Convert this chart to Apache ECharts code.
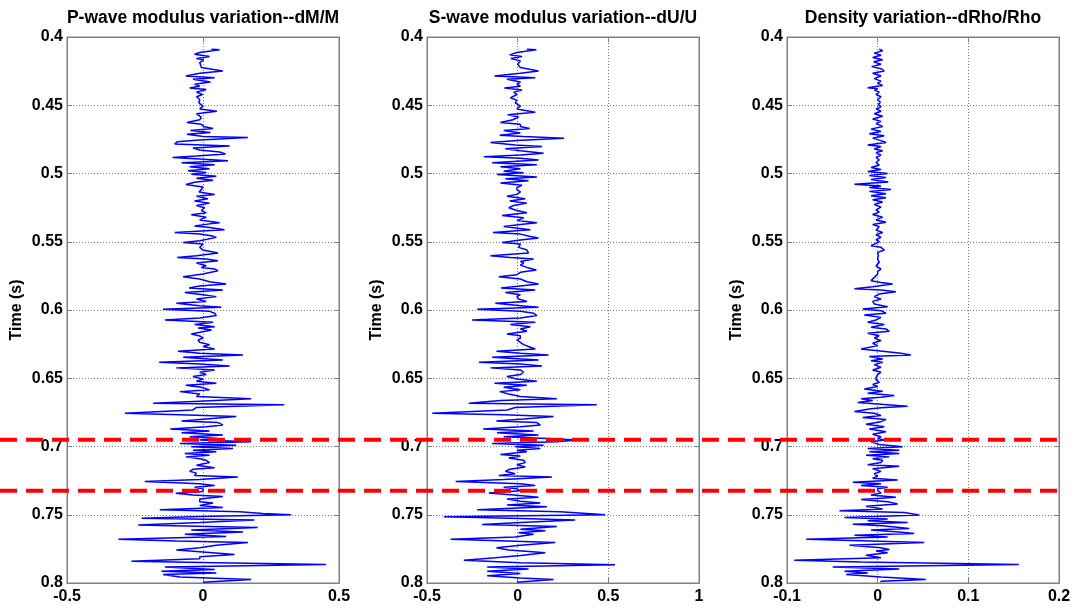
<!DOCTYPE html>
<html><head><meta charset="utf-8">
<script src="https://cdn.jsdelivr.net/npm/echarts@6/dist/echarts.min.js"></script>
<style>html,body{margin:0;padding:0;background:#fff}#c{width:1075px;height:608px}</style>
</head><body><div id="c"></div>
<script>
// ---- data ----
const panelTitles = ['P-wave modulus variation--dM/M', 'S-wave modulus variation--dU/U', 'Density variation--dRho/Rho'];
const xMins = [-0.5, -0.5, -0.1];
const xMaxs = [0.5, 1, 0.2];
const xSteps = [0.5, 0.5, 0.1];
const timeMin = 0.4, timeMax = 0.8, timeStep = 0.05;
const timeLabel = 'Time (s)';
const markerTimes = [0.695, 0.7324];

// [time (s), value]
const pTrace = [
[0.4089,0.031],[0.4094,0.061],[0.4113,-0.012],[0.4126,-0.031],[0.4143,0.024],[0.4158,-0.024],[0.4167,0.002],[0.4187,-0.012],[0.4224,-0.006],[0.4236,0],
[0.4249,0.073],[0.4266,-0.012],[0.4286,-0.063],[0.4298,0.043],[0.4310,-0.037],[0.4330,0.027],[0.4347,-0.031],[0.4360,-0.012],[0.4374,-0.049],[0.4384,0.012],
[0.4404,-0.024],[0.4421,-0.002],[0.4438,-0.024],[0.4458,-0.012],[0.4483,-0.015],[0.4507,0],[0.4527,-0.012],[0.4544,0.051],[0.4562,-0.024],[0.4576,-0.031],
[0.4589,-0.006],[0.4606,-0.012],[0.4626,-0.059],[0.4640,-0.006],[0.4655,0.002],[0.4670,0.037],[0.4685,-0.046],[0.4700,0.027],[0.4712,-0.059],[0.4729,0],
[0.4736,0.165],[0.4754,-0.012],[0.4768,-0.095],[0.4783,-0.104],[0.4798,0.098],[0.4813,-0.037],[0.4828,-0.012],[0.4842,0.061],[0.4857,0.083],[0.4872,-0.024],
[0.4882,-0.112],[0.4894,-0.012],[0.4906,0.092],[0.4921,-0.079],[0.4936,0.043],[0.4951,-0.049],[0.4966,0.024],[0.4980,-0.055],[0.4993,0.012],[0.5005,-0.043],
[0.5020,0.049],[0.5034,-0.024],[0.5049,0.037],[0.5064,-0.031],[0.5081,-0.063],[0.5099,0],[0.5118,-0.006],[0.5135,-0.015],[0.5153,0.043],[0.5167,-0.024],
[0.5185,0.018],[0.5202,-0.031],[0.5217,0.024],[0.5234,-0.024],[0.5251,0.006],[0.5271,-0.006],[0.5288,0.012],[0.5303,-0.043],[0.5320,0.012],[0.5340,-0.012],
[0.5360,0.061],[0.5369,0.024],[0.5384,-0.031],
[0.5395,0.024],[0.5412,0.079],[0.5432,-0.104],[0.5444,-0.012],[0.5456,0.031],[0.5468,0.049],[0.5480,0.043],[0.5493,-0.012],[0.5505,-0.073],[0.5517,0],
[0.5541,-0.012],[0.5561,0],[0.5583,0.055],[0.5602,-0.024],[0.5615,-0.095],[0.5627,0.012],[0.5639,0.055],[0.5656,-0.024],[0.5676,0.012],[0.5688,-0.006],
[0.5700,0.043],[0.5712,0.055],[0.5737,0],[0.5756,-0.073],[0.5773,-0.012],[0.5793,0.024],[0.5810,0.085],[0.5824,-0.012],[0.5839,-0.051],[0.5854,0.073],
[0.5871,-0.067],[0.5888,0],[0.5902,0.049],[0.5920,-0.024],[0.5937,0.012],[0.5951,-0.098],[0.5968,-0.012],[0.5980,0.067],[0.5995,-0.147],[0.6010,0.024],
[0.6024,0.043],[0.6041,0.049],[0.6059,-0.012],[0.6073,-0.140],[0.6090,0.037],[0.6107,-0.031],[0.6122,0.043],[0.6132,-0.018],[0.6146,0.031],[0.6176,-0.043],
[0.6190,-0.012],[0.6205,0],[0.6220,-0.018],[0.6237,-0.012],[0.6254,0.024],[0.6268,0],[0.6285,0.043],[0.6302,-0.092],[0.6317,-0.012],[0.6329,0.147],
[0.6346,-0.073],[0.6366,0.073],[0.6383,-0.161],[0.6395,-0.012],[0.6410,0.098],[0.6424,-0.098],[0.6439,0.043],[0.6456,-0.012],[0.6473,0.012],[0.6488,-0.037],
[0.6505,0],[0.6522,-0.024],[0.6537,0.049],[0.6551,-0.063],[0.6566,-0.006],[0.6585,0.024],[0.6598,-0.085],[0.6615,-0.012],[0.6634,-0.024],[0.6651,0.177],
[0.6668,-0.012],[0.6683,-0.183],[0.6695,0.299],
[0.6714,-0.024],[0.6732,-0.037],[0.6756,-0.287],[0.6768,-0.085],[0.6781,0.122],[0.6798,0.012],[0.6813,-0.079],[0.6825,0.055],[0.6842,0.073],[0.6855,0.012],
[0.6872,-0.120],[0.6887,0.024],[0.6899,-0.079],[0.6916,0.073],[0.6929,-0.049],[0.6941,0.055],[0.6953,-0.012],[0.6966,0.177],[0.6978,-0.085],[0.6990,0.122],
[0.7002,-0.043],[0.7015,0.110],[0.7027,-0.037],[0.7039,0.049],[0.7052,-0.067],[0.7064,0.024],[0.7076,-0.063],[0.7089,-0.012],[0.7101,0.012],[0.7118,0.024],
[0.7138,-0.024],[0.7155,0.043],[0.7167,-0.037],[0.7182,-0.049],[0.7195,-0.024],[0.7212,-0.031],[0.7224,0.128],[0.7241,-0.012],[0.7256,-0.214],[0.7273,-0.012],
[0.7286,0.043],[0.7298,-0.031],[0.7310,0],[0.7330,0],[0.7342,-0.100],[0.7355,-0.037],[0.7367,0.073],[0.7384,-0.012],[0.7404,-0.012],[0.7414,0.037],
[0.7433,-0.012],[0.7446,0.073],[0.7463,-0.159],[0.7478,0.134],[0.7490,0.220],[0.7500,0.324],[0.7512,-0.012],[0.7525,-0.226],[0.7539,0.189],[0.7557,-0.012],
[0.7576,-0.238],[0.7594,0.201],[0.7611,-0.043],[0.7626,0.147],[0.7643,-0.067],[0.7660,0.085],[0.7680,-0.311],[0.7692,-0.098],[0.7704,0.165],[0.7724,0.049],
[0.7741,-0.012],[0.7759,-0.098],[0.7773,0],[0.7791,0.116],[0.7808,-0.012],[0.7823,-0.012],[0.7840,-0.263],[0.7852,0.049],[0.7865,0.452],[0.7882,-0.140],
[0.7901,0.043],[0.7914,-0.153],[0.7926,0.049],[0.7938,-0.147],[0.7956,-0.085],[0.7975,0.177],[0.7995,0]
];

const sTrace = [
[0.4089,0.051],[0.4094,0.103],[0.4113,-0.004],[0.4131,-0.044],[0.4143,0.024],[0.4158,-0.037],[0.4175,0.015],[0.4200,0],[0.4224,0.015],[0.4249,0.115],
[0.4266,0.015],[0.4286,-0.128],[0.4298,0.097],[0.4310,-0.059],[0.4330,0.015],[0.4347,-0.004],[0.4360,0.015],[0.4374,-0.073],[0.4389,0.024],[0.4404,-0.022],
[0.4421,-0.004],[0.4446,-0.040],[0.4463,-0.004],[0.4483,-0.013],[0.4507,0.015],[0.4527,-0.004],[0.4552,0.097],[0.4569,-0.055],[0.4586,0.005],[0.4606,-0.026],
[0.4626,-0.095],[0.4640,0.015],[0.4655,0.015],[0.4670,0.066],[0.4685,-0.077],[0.4704,0.015],[0.4719,-0.099],[0.4729,0.033],[0.4741,0.256],[0.4759,-0.004],
[0.4773,-0.150],[0.4791,-0.013],[0.4803,0.134],[0.4818,-0.068],[0.4833,0.015],[0.4852,0.143],[0.4865,0.015],[0.4877,-0.187],[0.4889,0.015],[0.4901,0.115],
[0.4921,-0.141],[0.4936,0.106],[0.4951,-0.095],[0.4966,0.015],[0.4983,-0.077],[0.4995,0.033],[0.5007,-0.114],[0.5025,0.106],[0.5039,-0.068],[0.5054,0.060],
[0.5069,-0.095],[0.5086,0.024],[0.5103,-0.004],[0.5118,-0.004],[0.5135,0.015],[0.5153,-0.004],[0.5167,-0.059],[0.5185,0.042],[0.5202,-0.044],[0.5217,0.051],
[0.5234,-0.022],[0.5251,-0.049],[0.5271,-0.004],[0.5288,0.051],[0.5308,-0.086],[0.5325,0.033],[0.5345,-0.004],[0.5360,0.106],[0.5374,0.015],[0.5389,-0.077],
[0.5412,0.070],[0.5432,-0.136],[0.5444,0.015],[0.5461,0.070],[0.5473,0.115],[0.5488,0.015],[0.5505,-0.086],[0.5517,0.015],[0.5541,0.005],[0.5561,0.051],
[0.5583,0.060],[0.5602,-0.150],[0.5615,-0.040],[0.5627,0.088],[0.5644,0.015],[0.5656,0.033],[0.5671,0.015],[0.5688,0.051],[0.5707,0.103],[0.5724,0.015],
[0.5741,-0.004],[0.5756,-0.104],[0.5773,0.015],[0.5793,0.051],[0.5810,0.115],[0.5824,0.015],[0.5839,-0.092],[0.5854,0.097],[0.5871,-0.068],[0.5888,0.015],
[0.5902,-0.004],[0.5920,0.005],[0.5937,0.051],[0.5951,-0.123],[0.5968,0.015],[0.5980,0.115],[0.5995,-0.223],[0.6010,0.015],[0.6024,0.088],[0.6041,0.106],
[0.6059,0.015],[0.6073,-0.251],[0.6090,0.097],[0.6107,-0.040],[0.6122,0.070],[0.6139,0.015],[0.6156,0.051],[0.6176,-0.059],[0.6188,0.015],[0.6205,0.015],
[0.6220,-0.004],[0.6237,0.015],[0.6254,0.033],[0.6273,0.070],[0.6285,0.097],[0.6302,-0.117],[0.6317,0.015],[0.6329,0.170],[0.6346,-0.141],[0.6366,0.115],
[0.6383,-0.214],[0.6395,0.015],[0.6410,0.134],[0.6424,-0.150],[0.6439,0.015],[0.6456,0.033],[0.6473,0.015],[0.6488,-0.059],[0.6505,-0.004],[0.6522,0.106],
[0.6537,-0.128],[0.6551,0.051],[0.6566,-0.077],[0.6585,0.015],[0.6598,-0.099],[0.6615,-0.049],[0.6634,0.015],[0.6651,0.216],[0.6663,-0.095],[0.6683,-0.269],
[0.6695,0.436],
[0.6714,-0.013],[0.6732,-0.059],[0.6756,-0.471],[0.6768,-0.077],[0.6781,0.198],[0.6798,0.033],[0.6813,-0.117],[0.6825,0.106],[0.6842,0.125],[0.6855,0.015],
[0.6872,-0.190],[0.6887,0.088],[0.6899,-0.114],[0.6916,0.115],[0.6929,-0.077],[0.6941,0.161],[0.6953,0.326],[0.6966,0.216],[0.6978,-0.141],[0.6990,0.143],
[0.7002,-0.013],[0.7015,0.125],[0.7027,-0.004],[0.7039,0.051],[0.7059,-0.095],[0.7069,0.015],[0.7084,-0.049],[0.7101,0.033],[0.7118,0.042],[0.7133,-0.004],
[0.7150,0.042],[0.7167,-0.044],[0.7182,-0.068],[0.7200,-0.013],[0.7212,-0.104],[0.7224,0.189],[0.7241,-0.077],[0.7256,-0.342],[0.7273,0.015],[0.7286,0.097],
[0.7298,-0.077],[0.7310,-0.004],[0.7325,0.015],[0.7340,-0.159],[0.7355,-0.022],[0.7372,0.115],[0.7384,-0.059],[0.7401,0.015],[0.7414,0.125],[0.7429,-0.059],
[0.7441,0.161],[0.7463,-0.223],[0.7478,0.234],[0.7490,0.381],[0.7500,0.482],[0.7515,-0.407],[0.7527,0.015],[0.7539,0.317],[0.7557,0.015],[0.7571,-0.196],
[0.7586,0.216],[0.7606,0.015],[0.7618,0.152],[0.7631,0.005],[0.7643,0.088],[0.7663,-0.013],[0.7680,-0.370],[0.7692,-0.059],[0.7704,0.207],[0.7724,0.015],
[0.7741,-0.117],[0.7759,-0.049],[0.7778,0.152],[0.7798,0.015],[0.7815,-0.123],[0.7833,-0.297],[0.7852,0.015],[0.7867,0.537],[0.7882,-0.168],[0.7897,0.060],
[0.7914,-0.168],[0.7931,0.015],[0.7946,-0.168],[0.7963,0.015],[0.7975,0.198],[0.7995,-0.004]
];

const rhoTrace = [
[0.4089,0.0018],[0.4101,0.0055],[0.4118,-0.0037],[0.4133,0.0037],[0.4150,-0.0055],[0.4167,0.0055],[0.4182,-0.0044],[0.4200,0.0037],[0.4217,-0.0066],[0.4232,0.0037],
[0.4249,0.0073],[0.4266,-0.0055],[0.4286,0.0037],[0.4305,-0.0037],[0.4323,0.0037],[0.4340,0],[0.4355,0.0055],[0.4372,-0.0110],[0.4379,0],[0.4389,-0.0037],
[0.4404,0.0018],[0.4421,-0.0018],[0.4438,0.0037],[0.4458,0],[0.4478,0.0029],[0.4495,0.0007],[0.4512,0.0037],[0.4527,-0.0018],[0.4544,0.0037],[0.4562,-0.0037],
[0.4581,0.0055],[0.4601,-0.0055],[0.4618,0.0037],[0.4635,-0.0018],[0.4655,0.0055],[0.4675,-0.0073],[0.4692,0.0037],[0.4709,-0.0092],[0.4724,0.0073],[0.4741,-0.0055],
[0.4759,0.0037],[0.4773,0.0092],[0.4791,-0.0110],[0.4803,0.0037],[0.4820,-0.0037],[0.4833,0.0055],[0.4847,-0.0018],[0.4865,0.0037],[0.4882,-0.0018],[0.4901,0.0018],
[0.4921,-0.0018],[0.4938,0.0018],[0.4956,-0.0073],[0.4970,0.0037],[0.4985,-0.0110],[0.5000,0.0110],[0.5015,-0.0092],[0.5030,0.0092],[0.5044,-0.0073],[0.5062,0.0117],
[0.5079,-0.0256],[0.5091,0.0037],[0.5103,-0.0092],[0.5118,0.0147],[0.5131,-0.0092],[0.5148,0.0092],[0.5163,-0.0073],[0.5177,0.0092],[0.5192,-0.0055],[0.5209,0.0055],
[0.5227,-0.0037],[0.5246,0.0037],[0.5266,-0.0018],[0.5283,0.0018],[0.5300,-0.0055],[0.5320,0.0055],[0.5340,-0.0018],[0.5357,0.0092],[0.5374,-0.0055],[0.5389,0.0018],
[0.5395,0.0037],[0.5415,-0.0018],[0.5432,0.0055],[0.5449,-0.0018],[0.5468,0.0037],[0.5485,-0.0018],[0.5500,0.0018],[0.5517,-0.0037],[0.5529,-0.0073],[0.5541,0.0037],
[0.5561,0.0073],[0.5578,0],[0.5602,0.0007],[0.5627,0],[0.5651,0.0018],[0.5676,-0.0018],[0.5700,0.0037],[0.5717,0],[0.5737,0],[0.5761,-0.0037],
[0.5785,-0.0073],[0.5798,0.0037],[0.5810,0.0165],[0.5829,-0.0055],[0.5844,-0.0256],[0.5854,0.0037],[0.5866,0.0201],[0.5883,0.0018],[0.5902,-0.0037],[0.5920,0.0037],
[0.5937,-0.0055],[0.5956,-0.0037],[0.5976,0.0110],[0.5993,-0.0165],[0.6005,0.0037],[0.6024,0.0092],[0.6037,-0.0147],[0.6054,0.0037],[0.6073,-0.0018],[0.6090,-0.0110],
[0.6107,0.0073],[0.6127,-0.0073],[0.6139,0.0092],[0.6156,0.0128],[0.6171,-0.0110],[0.6188,0.0018],[0.6205,-0.0037],[0.6224,0.0037],[0.6244,-0.0055],[0.6261,0],
[0.6285,-0.0183],[0.6302,0.0055],[0.6317,0.0256],[0.6329,0.0366],[0.6341,-0.0092],[0.6359,0.0055],[0.6371,-0.0073],[0.6383,0.0055],[0.6400,-0.0037],[0.6420,0.0037],
[0.6439,-0.0055],[0.6456,0.0037],[0.6473,0],[0.6493,-0.0018],[0.6512,-0.0018],[0.6529,0.0018],[0.6546,-0.0055],[0.6561,0],[0.6578,-0.0147],[0.6595,0.0055],
[0.6610,-0.0110],[0.6627,0.0183],[0.6639,0.0037],[0.6651,-0.0183],[0.6663,-0.0055],[0.6678,-0.0220],[0.6693,0.0073],[0.6705,0.0330],[0.6717,0.0037],
[0.6724,-0.0073],[0.6744,-0.0256],[0.6756,-0.0037],[0.6773,0.0037],[0.6788,-0.0165],[0.6803,0.0092],[0.6818,0.0037],[0.6837,-0.0128],[0.6855,0.0073],[0.6872,-0.0092],
[0.6892,0.0092],[0.6911,-0.0055],[0.6929,0.0037],[0.6941,0],[0.6953,0.0073],[0.6966,-0.0073],[0.6985,0.0018],[0.7002,0.0275],[0.7015,-0.0110],[0.7027,0.0238],
[0.7039,-0.0092],[0.7052,0.0238],[0.7064,-0.0128],[0.7076,0.0128],[0.7089,-0.0055],[0.7101,0.0055],[0.7118,0.0037],[0.7133,-0.0110],[0.7145,0.0238],[0.7163,-0.0055],
[0.7182,0.0037],[0.7200,-0.0037],[0.7217,0],[0.7232,-0.0055],[0.7246,0.0220],[0.7261,-0.0275],[0.7273,0.0037],[0.7286,-0.0183],[0.7298,0.0110],[0.7310,0],
[0.7325,0],[0.7340,0.0037],[0.7355,-0.0073],[0.7372,0.0201],[0.7389,-0.0183],[0.7404,0.0110],[0.7421,0.0220],[0.7438,-0.0128],[0.7458,0.0055],[0.7470,-0.0421],
[0.7483,0.0293],[0.7502,0.0458],[0.7520,-0.0366],[0.7532,0.0110],[0.7544,-0.0110],[0.7557,0.0330],[0.7569,-0.0275],[0.7581,0.0055],[0.7601,0.0348],[0.7611,-0.0073],
[0.7626,0.0238],[0.7638,0.0403],[0.7650,-0.0256],[0.7663,0.0110],[0.7680,-0.0788],[0.7692,-0.0073],[0.7704,0.0513],[0.7724,-0.0311],[0.7741,0.0037],[0.7754,0.0128],
[0.7766,-0.0018],[0.7778,0.0110],[0.7796,-0.0128],[0.7815,0.0037],[0.7833,-0.0920],[0.7847,-0.0183],[0.7865,0.1557],[0.7882,-0.0495],[0.7897,0.0238],[0.7914,-0.0366],
[0.7926,-0.0110],[0.7938,-0.0348],[0.7956,0.0037],[0.7970,0.0018],[0.7975,0.0531],[0.7988,0.0037],[0.7995,0.0037]
];

const traces = [pTrace, sTrace, rhoTrace];

// ---- layout / style ----
const FONT = 'Liberation Sans, Arial, sans-serif';
const gridLefts = [67, 427, 787];
const gridWidth = 272, gridTop = 37, gridHeight = 546;
const boxColor = '#7f7f7f';
const dotted = { type: [1, 2], color: '#7a7a7a', width: 1 };
const lblStyle = { color: '#000', fontWeight: 'bold', fontSize: 16, fontFamily: FONT };

const grids = [], xAxes = [], yAxes = [], series = [];
for (let i = 0; i < 3; i++) {
  grids.push({ left: gridLefts[i], top: gridTop, width: gridWidth, height: gridHeight,
    show: true, borderColor: boxColor, borderWidth: 1, backgroundColor: '#fff' });
  const xBase = { gridIndex: i, type: 'value', min: xMins[i], max: xMaxs[i], interval: xSteps[i] };
  xAxes.push(Object.assign({}, xBase, { position: 'bottom',
    axisLine: { show: true, onZero: false, lineStyle: { color: boxColor } },
    axisTick: { show: true, inside: true, length: 5, lineStyle: { color: boxColor } },
    axisLabel: Object.assign({ margin: 6, showMinLabel: true, showMaxLabel: true }, lblStyle),
    splitLine: { show: true, lineStyle: dotted } }));
  xAxes.push(Object.assign({}, xBase, { position: 'top',
    name: panelTitles[i], nameLocation: 'middle', nameGap: 10,
    nameTextStyle: { color: '#000', fontWeight: 'bold', fontSize: 17.5, fontFamily: FONT },
    axisLine: { show: true, onZero: false, lineStyle: { color: boxColor } },
    axisTick: { show: true, inside: true, length: 5, lineStyle: { color: boxColor } },
    axisLabel: { show: false }, splitLine: { show: false } }));
  const yBase = { gridIndex: i, type: 'value', inverse: true, min: timeMin, max: timeMax, interval: timeStep };
  yAxes.push(Object.assign({}, yBase, { position: 'left',
    name: timeLabel, nameLocation: 'middle', nameGap: 42, nameRotate: 90,
    nameTextStyle: { color: '#000', fontWeight: 'bold', fontSize: 16, fontFamily: FONT },
    axisLine: { show: true, onZero: false, lineStyle: { color: boxColor } },
    axisTick: { show: true, inside: true, length: 5, lineStyle: { color: boxColor } },
    axisLabel: Object.assign({ margin: 4, showMinLabel: true, showMaxLabel: true }, lblStyle),
    splitLine: { show: true, lineStyle: dotted } }));
  yAxes.push(Object.assign({}, yBase, { position: 'right',
    axisLine: { show: true, onZero: false, lineStyle: { color: boxColor } },
    axisTick: { show: true, inside: true, length: 5, lineStyle: { color: boxColor } },
    axisLabel: { show: false }, splitLine: { show: false } }));
  series.push({ type: 'line', xAxisIndex: 2 * i, yAxisIndex: 2 * i,
    data: traces[i].map(d => [d[1], d[0]]), showSymbol: false, symbol: 'none',
    lineStyle: { color: '#0000ff', width: 1.5 }, z: 3, clip: true });
}
// full-width overlay for the two red marker lines
grids.push({ left: 0, right: 17, top: gridTop, height: gridHeight, show: false });
xAxes.push({ gridIndex: 3, type: 'value', min: 0, max: 1, show: false });
yAxes.push({ gridIndex: 3, type: 'value', inverse: true, min: timeMin, max: timeMax, show: false });
markerTimes.forEach(t => {
  series.push({ type: 'line', xAxisIndex: 6, yAxisIndex: 6, data: [[0, t], [1, t]],
    symbol: 'none', lineStyle: { color: '#ff0000', width: 4, type: [17, 9] }, z: 10, silent: true });
});

const chart = echarts.init(document.getElementById('c'), null, { renderer: 'canvas' });
chart.setOption({ animation: false, backgroundColor: '#fff',
  grid: grids, xAxis: xAxes, yAxis: yAxes, series: series });
</script></body></html>
